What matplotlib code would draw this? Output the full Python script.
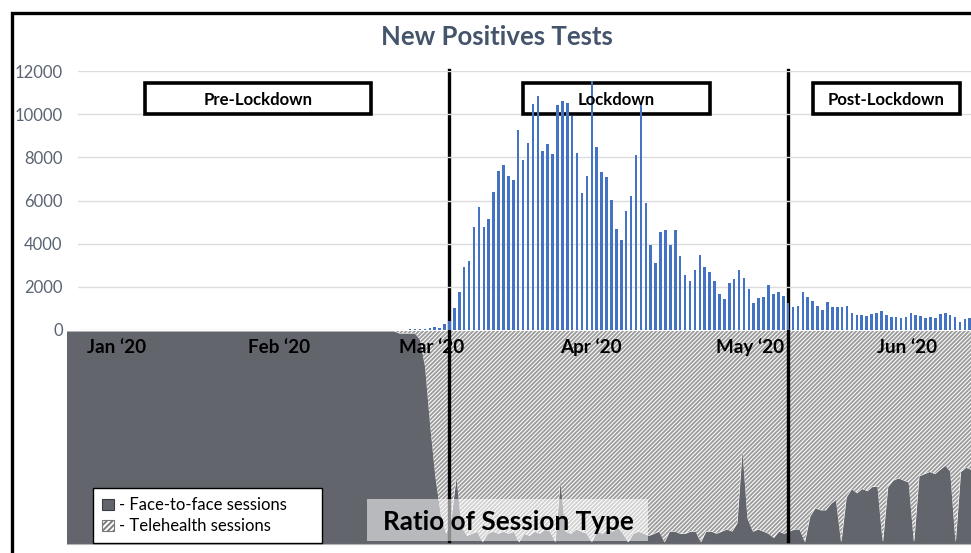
import numpy as np
import pandas as pd
import matplotlib
matplotlib.use("Agg")
import matplotlib.pyplot as plt
from matplotlib.patches import Rectangle
from matplotlib.lines import Line2D
import matplotlib.transforms as mtransforms

plt.rcParams['font.family'] = ['Lato', 'DejaVu Sans']
plt.rcParams['hatch.linewidth'] = 1.35

# ---------------- data ----------------
cases_start = "2020-03-01"
new_positive_tests = [
    5, 5, 8, 10, 10, 12, 15, 15, 20, 25,
    30, 45, 60, 80, 150, 110, 280, 430, 1000, 1750,
    2930, 3210, 4790, 5700, 4790, 5130, 6410, 7370, 7640, 7150,
    6950, 9260, 7870, 8650, 10450, 10840, 8290, 8620, 8140, 10420,
    10590, 10530, 9910, 8180, 6330, 7150, 11530, 8460, 7330, 7070,
    6020, 4680, 4150, 5510, 6210, 8100, 10530, 5870, 3920, 3090,
    4540, 4630, 3920, 4650, 3440, 2530, 2250, 2790, 3490, 2910,
    2710, 2280, 1660, 1430, 2170, 2360, 2770, 2400, 1890, 1240,
    1470, 1520, 2080, 1690, 1770, 1580, 1240, 1050, 1130, 1770,
    1530, 1340, 1120, 930, 1320, 1050, 1050, 1050, 1120, 775,
    700, 680, 670, 730, 810, 900, 680, 620, 620, 570,
    620, 810, 700, 670, 540, 590, 570, 760, 790, 700,
    600, 390, 530, 570,
]

session_start = "2019-12-28"
face_to_face_share = [
    1.0, 1.0, 1.0, 1.0, 1.0, 1.0, 1.0, 1.0, 1.0, 1.0, 1.0, 1.0, 1.0, 1.0, 1.0, 1.0,
    1.0, 1.0, 1.0, 1.0, 1.0, 1.0, 1.0, 1.0, 1.0, 1.0, 1.0, 1.0, 1.0, 1.0, 1.0, 1.0,
    1.0, 1.0, 1.0, 1.0, 1.0, 1.0, 1.0, 1.0, 1.0, 1.0, 1.0, 1.0, 1.0, 1.0, 1.0, 1.0,
    1.0, 1.0, 1.0, 1.0, 1.0, 1.0, 1.0, 1.0, 1.0, 1.0, 1.0, 1.0, 1.0, 1.0, 1.0, 1.0,
    0.99, 0.99, 0.99, 0.99, 0.96, 0.83, 0.55, 0.31, 0.14, 0.05,
    0.12, 0.32, 0.08, 0.04, 0.05, 0.06, 0.01, 0.05, 0.06, 0.05,
    0.06, 0.05, 0.06, 0.01, 0.05, 0.04, 0.06, 0.05, 0.07, 0.06,
    0.01, 0.30, 0.06, 0.05, 0.07, 0.06, 0.05, 0.01, 0.06, 0.05,
    0.07, 0.06, 0.08, 0.05, 0.01, 0.05, 0.06, 0.05, 0.04, 0.05,
    0.06, 0.01, 0.06, 0.06, 0.05, 0.05, 0.06, 0.06, 0.01, 0.06,
    0.06, 0.05, 0.06, 0.07, 0.06, 0.10, 0.45, 0.12, 0.06, 0.07,
    0.06, 0.05, 0.03, 0.06, 0.05, 0.06, 0.07, 0.07, 0.01, 0.13,
    0.17, 0.16, 0.16, 0.19, 0.21, 0.01, 0.22, 0.26, 0.24, 0.26,
    0.25, 0.27, 0.27, 0.01, 0.27, 0.30, 0.31, 0.30, 0.29, 0.01,
    0.32, 0.33, 0.34, 0.33, 0.35, 0.37, 0.34, 0.01, 0.34, 0.36,
    0.35,
]

month_labels = ["Jan \u201820", "Feb \u201820", "Mar \u201820", "Apr \u201820", "May \u201820", "Jun \u201820"]
month_starts = ["2020-01-01", "2020-02-01", "2020-03-01", "2020-04-01", "2020-05-01", "2020-06-01"]
y_ticks = [0, 2000, 4000, 6000, 8000, 10000, 12000]
phase_names = ["Pre-Lockdown", "Lockdown", "Post-Lockdown"]
phase_box_start = ["2020-01-16", "2020-04-02", "2020-05-31"]
phase_box_end = ["2020-03-02", "2020-05-10", "2020-06-30"]
phase_change_dates = ["2020-03-18", "2020-05-26"]
legend_labels = ["- Face-to-face sessions", "- Telehealth sessions"]

# ---------------- helpers ----------------
ORIGIN = pd.Timestamp("2020-01-01")


def day(s):
    return (pd.Timestamp(s) - ORIGIN).days


W, H = 971, 553


def frac(x0, y0, x1, y1):
    return [x0 / W, 1 - y1 / H, (x1 - x0) / W, (y1 - y0) / H]


DARK = '#62656c'
BLUE = '#4472C4'

fig = plt.figure(figsize=(W / 100, H / 100), dpi=100)

ax_low = fig.add_axes(frac(67, 331, 971, 544))
ax_top = fig.add_axes(frac(78, 71, 971, 330))
ax_low.set_zorder(1)
ax_top.set_zorder(2)
ax_top.patch.set_visible(False)

# ---------------- upper bar chart ----------------
bar_x = day(cases_start) + np.arange(len(new_positive_tests))
ax_top.bar(bar_x, new_positive_tests, width=0.52, color=BLUE, zorder=3)
ax_top.set_xlim(1.34, 183.25)
ax_top.set_ylim(0, 12000)
ax_top.set_yticks(y_ticks)
ax_top.set_yticklabels([str(v) for v in y_ticks])
ax_top.tick_params(axis='y', length=0, pad=11, labelsize=12, labelcolor='#5a6473')
ax_top.set_xticks([])
ax_top.yaxis.grid(True, color='#dcdcdc', lw=1)
ax_top.set_axisbelow(True)
for s in ax_top.spines.values():
    s.set_visible(False)

for name, a, b in zip(phase_names, phase_box_start, phase_box_end):
    x0, x1 = day(a), day(b)
    ax_top.add_patch(Rectangle((x0, 10020), x1 - x0, 1440, fill=False,
                               edgecolor='black', lw=2.6, zorder=2, clip_on=False))
    ax_top.text((x0 + x1) / 2, 10430, name, ha='center', va='baseline',
                fontsize=12.1, fontweight='bold', color='black', zorder=4)

# ---------------- lower session ratio chart ----------------
sess_x = day(session_start) + np.arange(len(face_to_face_share))
share = np.array(face_to_face_share)
dark_fill = ax_low.fill_between(sess_x, 0, share, color=DARK, lw=0, zorder=1)
hatch_fill = ax_low.fill_between(sess_x, share, 1.0, facecolor='white',
                                 edgecolor='#9c9c9c', hatch='////////', lw=0, zorder=1)
ax_low.set_xlim(-3.88, 170.0)
ax_low.set_ylim(0, 1)
ax_low.set_xticks([])
ax_low.set_yticks([])
for k in ['top', 'left', 'right']:
    ax_low.spines[k].set_visible(False)
ax_low.spines['bottom'].set_color('#b5b5b5')

blend_low = mtransforms.blended_transform_factory(ax_low.transData, ax_low.transAxes)
for lab, ms in zip(month_labels, month_starts):
    ax_low.text(day(ms), 0.895, lab, transform=blend_low, ha='left', va='baseline',
                fontsize=13.6, fontweight='bold', color='black', zorder=6)

# phase change vertical lines (x on the case-date axis)
blend_lines = mtransforms.blended_transform_factory(ax_top.transData, ax_low.transAxes)
for d in phase_change_dates:
    ax_low.add_line(Line2D([day(d), day(d)], [0.014, 2.226], transform=blend_lines,
                           color='black', lw=2.4, clip_on=False, zorder=3))

# "Ratio of Session Type" label
ax_low.add_patch(Rectangle((53.9, 0.0155), 107.8 - 53.9, 0.195, facecolor='white',
                           alpha=0.55, lw=0, zorder=4))
ax_low.text(56.9, (544 - 530) / 213, "Ratio of Session Type", ha='left', va='baseline',
            fontsize=18.8, fontweight='bold', color='black', zorder=5)

# legend
h_dark = Rectangle((0, 0), 1, 1, facecolor=DARK, edgecolor='#3a3d42', lw=0.8)
h_hatch = Rectangle((0, 0), 1, 1, facecolor='white', edgecolor='#7a7a7a', hatch='//////', lw=0.8)
leg = ax_low.legend([h_dark, h_hatch], legend_labels, loc='upper left',
                    bbox_to_anchor=(93.3 / W, 1 - 488.3 / H, (321.7 - 93.3) / W, 0),
                    bbox_transform=fig.transFigure, mode='expand', borderaxespad=0,
                    fontsize=12, handlelength=0.68, handleheight=0.68, handletextpad=0.3,
                    labelspacing=0.28, borderpad=0.55, fancybox=False, framealpha=1,
                    edgecolor='black')
leg.get_frame().set_linewidth(1.0)
leg.set_zorder(7)

# title
fig.text(497 / W, 1 - 45 / H, "New Positives Tests", ha='center', va='baseline',
         fontsize=18.5, fontweight='bold', color='#44546A')

# outer frame (cut on right and bottom)
fig.add_artist(Rectangle((11.5 / W, -0.1), 1.2, 1.1 - 12.7 / H, transform=fig.transFigure,
                         fill=False, edgecolor='black', lw=2.4))

fig.savefig("out.png", dpi=100)
